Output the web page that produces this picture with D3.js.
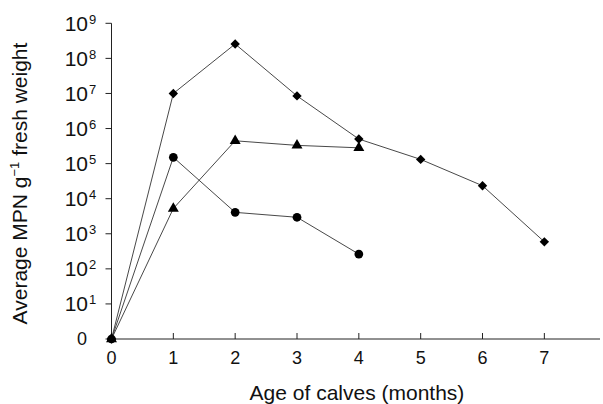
<!DOCTYPE html>
<html><head><meta charset="utf-8">
<script src="https://cdn.jsdelivr.net/npm/d3@7"></script>
<style>body{margin:0;background:#fff}svg{display:block}text{font-family:"Liberation Sans",Arial,sans-serif;fill:#111}</style>
</head><body>
<svg id="c" width="603" height="404"></svg>
<script>
// Age of calves (months)
const months = [0, 1, 2, 3, 4, 5, 6, 7];
// log10 of average MPN per g fresh weight (0 = none detected)
const diamondLog = [0, 7.0, 8.41, 6.93, 5.70, 5.12, 4.37, 2.77];
const circleLog = [0, 5.18, 3.61, 3.47, 2.42];
const triangleLog = [0, 3.72, 5.65, 5.52, 5.45];
const yTickExp = [0, 1, 2, 3, 4, 5, 6, 7, 8, 9];
const xTicks = [1, 2, 3, 4, 5, 6, 7];

const svg = d3.select("#c");
const x = d3.scaleLinear().domain([0, 7.9]).range([111.5, 600]);
const y = d3.scaleLinear().domain([0, 9]).range([339, 23.3]);

// axes
const ax = svg.append("g").attr("stroke", "#222").attr("stroke-width", 1);
ax.append("line").attr("x1", x(0)).attr("x2", x(7.9)).attr("y1", y(0)).attr("y2", y(0));
ax.append("line").attr("x1", x(0)).attr("x2", x(0)).attr("y1", y(0)).attr("y2", y(9));
ax.selectAll(".yt").data(yTickExp).join("line")
  .attr("x1", x(0) - 6).attr("x2", x(0)).attr("y1", d => y(d)).attr("y2", d => y(d));
ax.selectAll(".xt").data(xTicks).join("line")
  .attr("x1", d => x(d)).attr("x2", d => x(d)).attr("y1", y(0)).attr("y2", y(0) - 6);

// y tick labels
yTickExp.forEach(e => {
  if (e === 0) {
    svg.append("text").attr("x", 87).attr("y", y(0) + 6).attr("text-anchor", "end")
      .attr("font-size", 18).text("0");
  } else {
    svg.append("text").attr("x", 88).attr("y", y(e) + 7.5).attr("text-anchor", "end")
      .attr("font-size", 21).text("10");
    svg.append("text").attr("x", 89).attr("y", y(e) + 0.5)
      .attr("font-size", 13).text(e);
  }
});
// x tick labels
svg.selectAll(".xl").data(months).join("text")
  .attr("x", d => x(d)).attr("y", 364).attr("text-anchor", "middle")
  .attr("font-size", 18).text(d => d);

// titles
svg.append("text").attr("x", 357).attr("y", 400).attr("text-anchor", "middle")
  .attr("font-size", 21).text("Age of calves (months)");
const yt = svg.append("text").attr("transform", "translate(27,183.5) rotate(-90)")
  .attr("text-anchor", "middle").attr("font-size", 21);
yt.append("tspan").text("Average MPN g");
yt.append("tspan").attr("font-size", 13).attr("dy", -8).text("\u22121");
yt.append("tspan").attr("dy", 8).text(" fresh weight");

// series
const line = d3.line().x((d, i) => x(months[i])).y(d => y(d));
const series = [
  {data: diamondLog, sym: d3.symbolSquare, size: 44, rot: 45},
  {data: circleLog, sym: d3.symbolCircle, size: 60, rot: 0},
  {data: triangleLog, sym: d3.symbolTriangle, size: 52, rot: 0}
];
series.forEach(s => {
  svg.append("path").attr("d", line(s.data)).attr("fill", "none")
    .attr("stroke", "#333").attr("stroke-width", 0.9);
});
series.forEach(s => {
  svg.append("g").selectAll("path").data(s.data).join("path")
    .attr("transform", (d, i) => `translate(${x(months[i])},${y(d)}) rotate(${s.rot})`)
    .attr("d", d3.symbol().type(s.sym).size(s.size)).attr("fill", "#000");
});
</script>
</body></html>
